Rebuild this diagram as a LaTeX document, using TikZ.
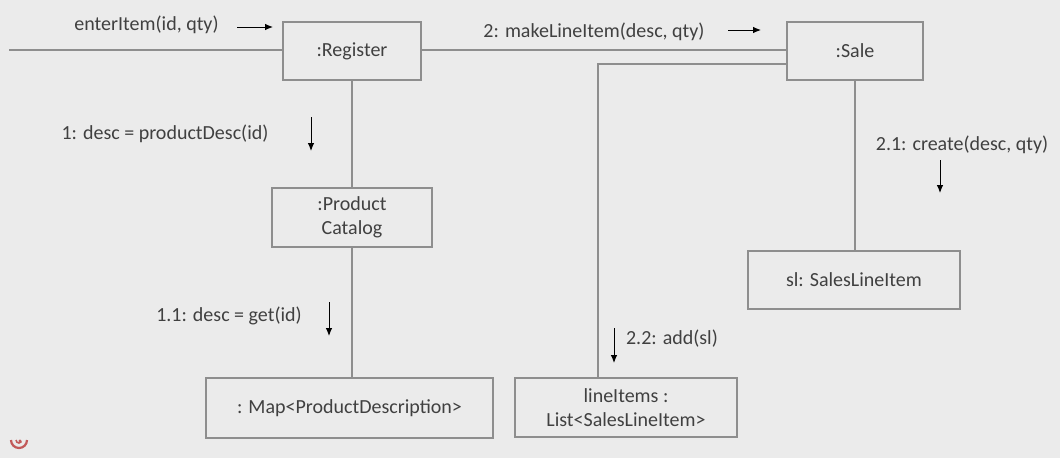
\documentclass[tikz,border=0pt]{standalone}
\usepackage{fontspec}
\setmainfont{Carlito}
\usetikzlibrary{arrows.meta,calc}
\definecolor{bg}{HTML}{EBEBEB}
\definecolor{ln}{HTML}{8E8E8E}
\definecolor{tx}{HTML}{404040}
\definecolor{ic}{HTML}{C25A5A}
\tikzset{
  obj/.style={draw=ln, line width=1.4pt, rectangle, inner sep=0pt, align=center,
    text=tx, font=\fontsize{20}{24}\selectfont},
  link/.style={draw=ln, line width=1.4pt},
  msg/.style={draw=black, line width=0.9pt, -{Latex[length=8pt,width=6.5pt]}},
  lbl/.style={text=tx, font=\fontsize{20}{24}\selectfont, inner sep=0pt}
}
\begin{document}
\begin{tikzpicture}[x=1pt,y=-1pt]
\fill[bg] (0,0) rectangle (1060,458);
\useasboundingbox (0,0) rectangle (1060,458);
% objects
\node[obj, minimum width=138pt, minimum height=58pt] (reg) at (352,51) {:Register};
\node[obj, minimum width=136pt, minimum height=58pt] (sale) at (855,51) {:Sale};
\node[obj, minimum width=160pt, minimum height=59pt] (cat) at (352,217.5) {:Product\\Catalog};
\node[obj, minimum width=287pt, minimum height=60pt] (map) at (349.5,408) {: Map<ProductDescription>};
\node[obj, minimum width=222pt, minimum height=59pt] (list) at (626,407.5) {lineItems :\\List<SalesLineItem>};
\node[obj, minimum width=212pt, minimum height=58pt] (sli) at (854,280) {sl: SalesLineItem};
% links
\coordinate (start) at (9,50);
\draw[link] (start) -- (start -| reg.west);
\draw[link] ([yshift=1pt]reg.east) -- ([yshift=1pt]sale.west);
\draw[link] ([yshift=-13pt]sale.west) -| ([xshift=-28pt]list.north);
\draw[link] (reg.south) -- (cat.north);
\draw[link] (cat.south) -- (cat.south |- map.north);
\draw[link] (sale.south) -- (sale.south |- sli.north);
% messages
\coordinate (m0a) at (237,27); \coordinate (m0b) at (273,27);
\draw[msg] (m0a) -- (m0b);
\node[lbl] (l0) at (146.5,25) {enterItem(id, qty)};
\coordinate (m2a) at (728,30); \coordinate (m2b) at (761,30);
\draw[msg] (m2a) -- (m2b);
\node[lbl] (l2) at (594,32) {2: makeLineItem(desc, qty)};
\coordinate (m1a) at (311,117); \coordinate (m1b) at (311,151);
\draw[msg] (m1a) -- (m1b);
\node[lbl] (l1) at (165,134) {1: desc = productDesc(id)};
\coordinate (m21a) at (940,160); \coordinate (m21b) at (940,193);
\draw[msg] (m21a) -- (m21b);
\node[lbl] (l21) at (962,145) {2.1: create(desc, qty)};
\coordinate (m11a) at (329,302); \coordinate (m11b) at (329,336);
\draw[msg] (m11a) -- (m11b);
\node[lbl] (l11) at (229,316) {1.1: desc = get(id)};
\coordinate (m22a) at (614,328); \coordinate (m22b) at (614,363);
\draw[msg] (m22a) -- (m22b);
\node[lbl] (l22) at (672,339) {2.2: add(sl)};
% small red icon
\draw[ic, line width=2.2pt] (11,440) arc (180:0:8);
\draw[ic, line width=1.6pt] (16,440) arc (180:30:3);
\fill[ic] (20,441) circle (1.6pt);
\end{tikzpicture}
\end{document}
